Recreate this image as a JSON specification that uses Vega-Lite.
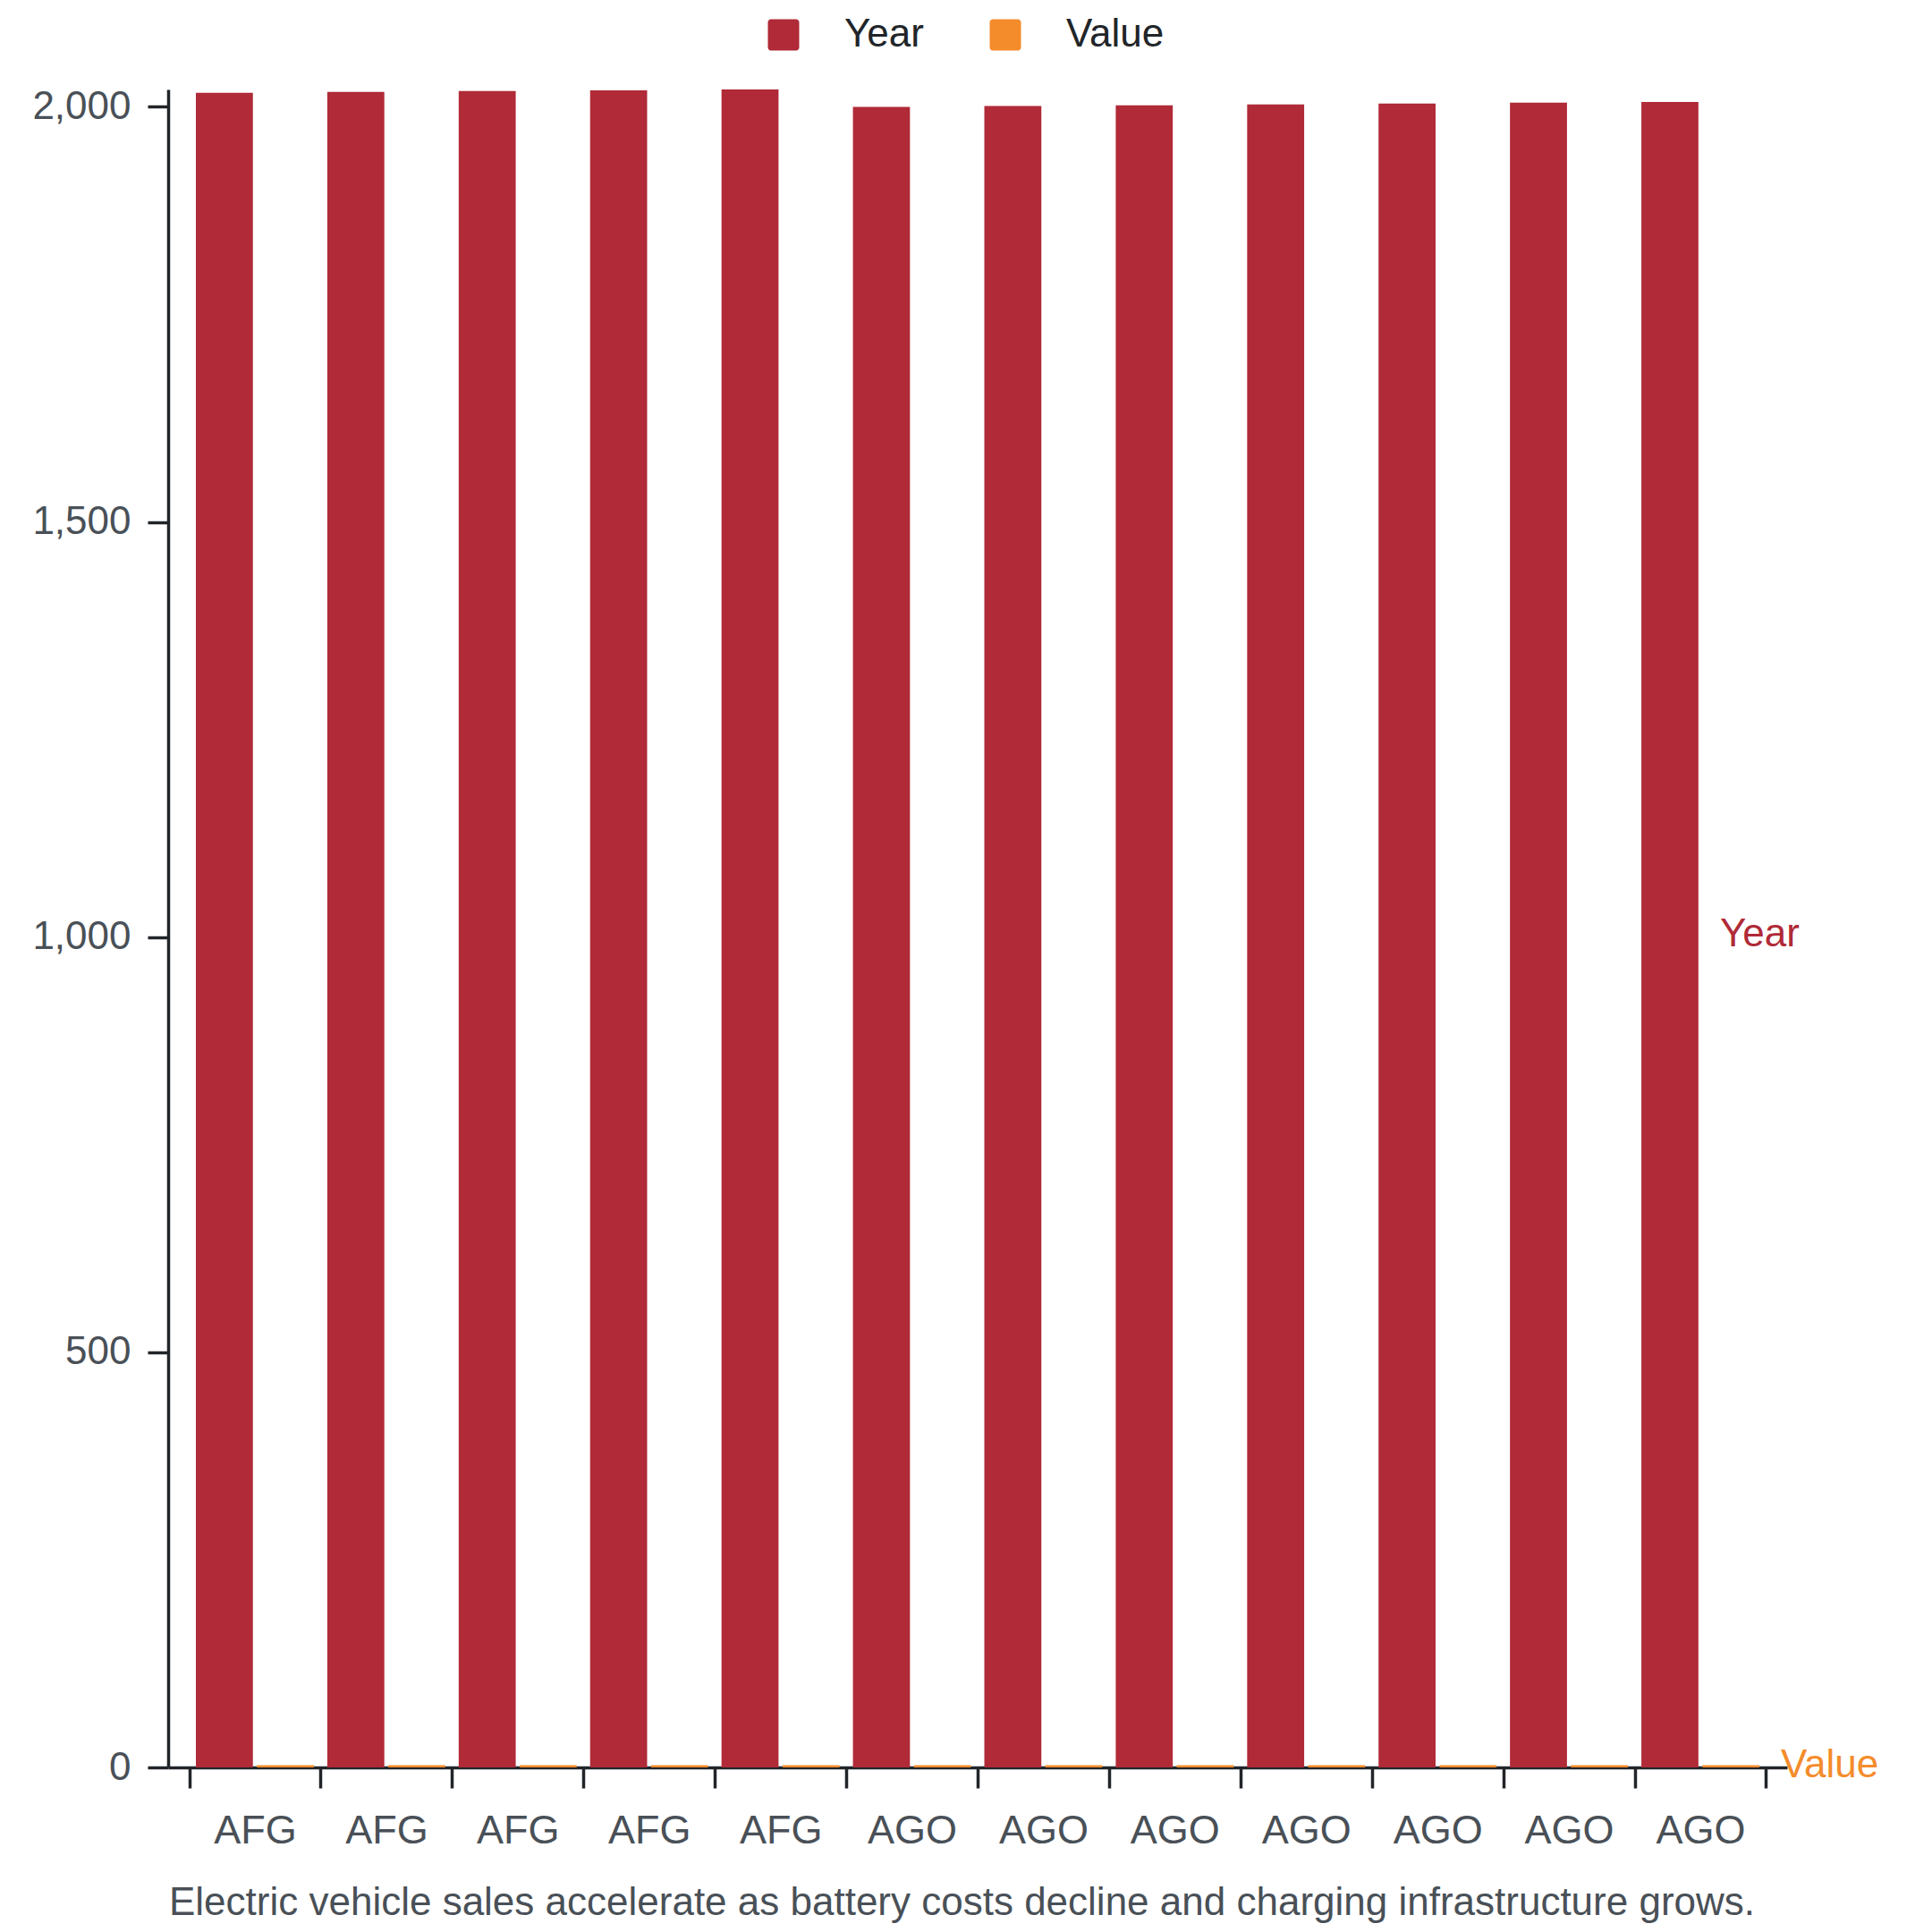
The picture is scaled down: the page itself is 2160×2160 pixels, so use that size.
{
  "$schema": "https://vega.github.io/schema/vega-lite/v6.json",
  "width": 1810,
  "height": 1876,
  "autosize": {"type": "none"},
  "padding": {"left": 188, "top": 100, "right": 162, "bottom": 184},
  "background": "white",
  "datasets": {
    "rows": [
      {"Entity": "AFG", "Row": "AFG_2017", "Year": 2017, "Value": 2.6},
      {"Entity": "AFG", "Row": "AFG_2018", "Year": 2018, "Value": 2.6},
      {"Entity": "AFG", "Row": "AFG_2019", "Year": 2019, "Value": 2.6},
      {"Entity": "AFG", "Row": "AFG_2020", "Year": 2020, "Value": 2.6},
      {"Entity": "AFG", "Row": "AFG_2021", "Year": 2021, "Value": 2.6},
      {"Entity": "AGO", "Row": "AGO_2000", "Year": 2000, "Value": 2.6},
      {"Entity": "AGO", "Row": "AGO_2001", "Year": 2001, "Value": 2.6},
      {"Entity": "AGO", "Row": "AGO_2002", "Year": 2002, "Value": 2.6},
      {"Entity": "AGO", "Row": "AGO_2003", "Year": 2003, "Value": 2.6},
      {"Entity": "AGO", "Row": "AGO_2004", "Year": 2004, "Value": 2.6},
      {"Entity": "AGO", "Row": "AGO_2005", "Year": 2005, "Value": 2.6},
      {"Entity": "AGO", "Row": "AGO_2006", "Year": 2006, "Value": 2.6}
    ],
    "labels": [
      {"Series": "Year", "Row": "AGO_2006", "Pos": 1003},
      {"Series": "Value", "Row": "AGO_2006", "Pos": 2.6}
    ]
  },
  "layer": [
    {
      "data": {"name": "rows"},
      "transform": [
        {"fold": ["Year", "Value"], "as": ["Series", "Amount"]}
      ],
      "mark": {"type": "bar"},
      "encoding": {
        "x": {
          "field": "Row",
          "type": "nominal",
          "sort": null,
          "scale": {"paddingInner": 0, "paddingOuter": 0.16},
          "axis": {
            "title": "Electric vehicle sales accelerate as battery costs decline and charging infrastructure grows.",
            "labelExpr": "split(datum.label, '_')[0]",
            "labelAngle": 0,
            "tickBand": "extent",
            "labelPadding": 25,
            "titlePadding": 36,
            "titleX": 887
          }
        },
        "xOffset": {
          "field": "Series",
          "type": "nominal",
          "sort": ["Year", "Value"],
          "scale": {"paddingInner": 0.065, "paddingOuter": 0.11}
        },
        "y": {
          "field": "Amount",
          "type": "quantitative",
          "scale": {"domain": [0, 2021], "nice": false},
          "axis": {
            "title": null,
            "values": [0, 500, 1000, 1500, 2000],
            "format": ",.0f",
            "labelPadding": 19,
            "labelFontSize": 44
          }
        },
        "color": {
          "field": "Series",
          "type": "nominal",
          "scale": {"domain": ["Year", "Value"], "range": ["#b02a37", "#f48c2c"]},
          "legend": {
            "title": null,
            "orient": "none",
            "legendX": 666,
            "legendY": -83,
            "direction": "horizontal",
            "symbolType": "M-0.8,-1H0.8A0.2,0.2,0,0,1,1,-0.8V0.8A0.2,0.2,0,0,1,0.8,1H-0.8A0.2,0.2,0,0,1,-1,0.8V-0.8A0.2,0.2,0,0,1,-0.8,-1Z",
            "symbolSize": 1225,
            "symbolStrokeWidth": 0,
            "labelOffset": 46,
            "columnPadding": 69
          }
        }
      }
    },
    {
      "data": {"name": "labels"},
      "transform": [{"filter": "datum.Series === 'Year'"}],
      "mark": {"type": "text", "align": "left", "baseline": "middle", "dx": 22, "color": "#b02a37", "fontSize": 44, "font": "Liberation Sans"},
      "encoding": {
        "x": {"field": "Row", "type": "nominal"},
        "y": {"field": "Pos", "type": "quantitative"},
        "text": {"field": "Series"}
      }
    },
    {
      "data": {"name": "labels"},
      "transform": [{"filter": "datum.Series === 'Value'"}],
      "mark": {"type": "text", "align": "left", "baseline": "middle", "dx": 90, "color": "#f48c2c", "fontSize": 44, "font": "Liberation Sans"},
      "encoding": {
        "x": {"field": "Row", "type": "nominal"},
        "y": {"field": "Pos", "type": "quantitative"},
        "text": {"field": "Series"}
      }
    }
  ],
  "config": {
    "view": {"stroke": null},
    "font": "Liberation Sans",
    "axis": {
      "grid": false,
      "domainColor": "#212529",
      "domainWidth": 3.5,
      "tickColor": "#212529",
      "tickWidth": 3.5,
      "tickSize": 23,
      "labelFont": "Liberation Sans",
      "labelFontSize": 45,
      "labelColor": "#495057",
      "titleFont": "Liberation Sans",
      "titleFontSize": 44,
      "titleFontWeight": "normal",
      "titleColor": "#495057"
    },
    "legend": {
      "labelFont": "Liberation Sans",
      "labelFontSize": 44,
      "labelColor": "#212529"
    }
  }
}
